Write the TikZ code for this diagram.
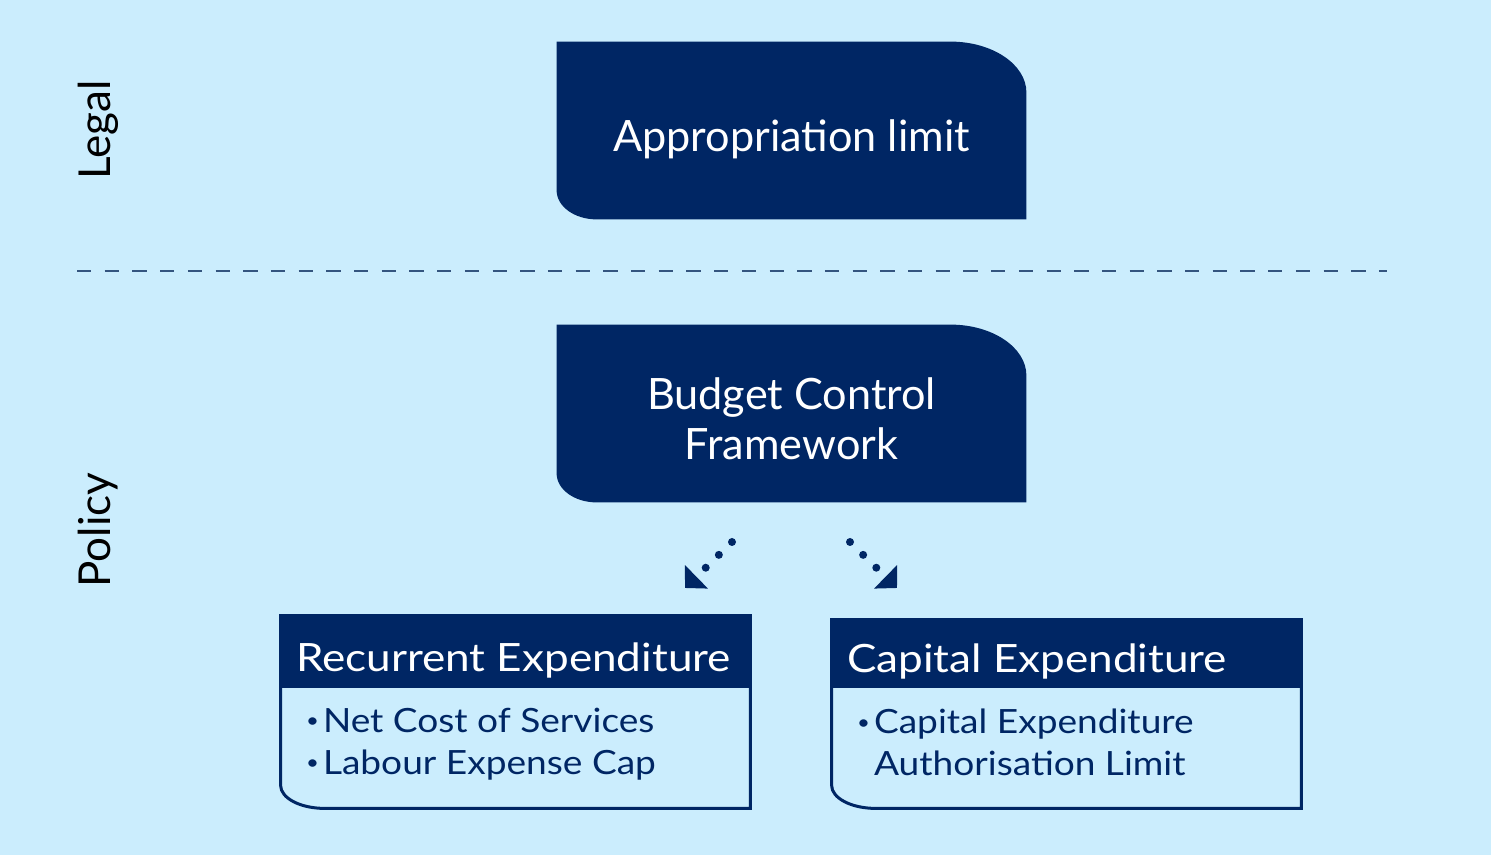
\documentclass[tikz,border=0pt]{standalone}
\usepackage{fontspec}
\setmainfont{Lato}
\usepackage{tikz}
\usetikzlibrary{arrows.meta, positioning, backgrounds}

\definecolor{navy}{HTML}{002664}
\definecolor{skyblue}{HTML}{CBEDFD}
\definecolor{dashblue}{HTML}{34557F}

\newcommand{\itm}{\makebox[8.5pt][l]{\raisebox{2.2pt}{\scalebox{0.6}{\textbullet}}}}

\begin{document}
\begin{tikzpicture}[
    x=0.5pt, y=0.5pt,
    darkbox/.style={rectangle, minimum width=234.5pt, minimum height=88.5pt, inner sep=0pt},
    boxtext/.style={inner sep=0pt, align=center, text=white, font=\fontsize{21.6}{25}\selectfont},
    listbox/.style={rectangle, minimum width=234.5pt, inner sep=0pt},
    headtext/.style={anchor=base west, inner sep=0pt, text=white, font=\fontsize{19.5}{22}\selectfont\addfontfeature{FakeStretch=1.13}},
    bodytext/.style={anchor=north west, inner sep=0pt, align=left, text=navy, font=\fontsize{16.7}{21}\selectfont\addfontfeature{FakeStretch=1.11}},
    sidelabel/.style={rotate=90, inner sep=0pt, font=\fontsize{22}{25}\selectfont},
    divider/.style={dashblue, line width=1pt, dash pattern=on 7.15pt off 6.7pt},
    arrow/.style={navy, line width=4pt, line cap=round, dash pattern=on 0pt off 9.2pt, -{Triangle[length=8pt, width=16pt]}}
]

\useasboundingbox (0,0) rectangle (1491,855);

% side labels
\node[sidelabel] (legal) at (98,725) {Legal};
\node[sidelabel] (policy) at (98,325) {Policy};

% main boxes
\node[darkbox] (approp) at (791.5,724.5) {};
\node[darkbox] (bcf) at (791.5,441.5) {};
\node[boxtext] (approptext) at ([yshift=-4.5pt]approp.center) {Appropriation limit};
\node[boxtext] (bcftext) at ([yshift=-2.75pt]bcf.center) {Budget Control\\Framework};

\node[listbox, minimum height=96pt] (recur) at (515.5,143) {};
\node[listbox, minimum height=94pt] (capex) at (1066.5,141) {};

\node[headtext] (rechead) at ([shift={(7.5pt,-28pt)}]recur.north west) {Recurrent Expenditure};
\node[headtext] (caphead) at ([shift={(7.5pt,-26.5pt)}]capex.north west) {Capital Expenditure};

\node[bodytext] (recbody) at ([shift={(12.5pt,-46pt)}]recur.north west) {\itm Net Cost of Services\\\itm Labour Expense Cap};
\node[bodytext] (capbody) at ([shift={(12.5pt,-44.5pt)}]capex.north west) {\itm Capital Expenditure\\\hspace*{8.5pt}Authorisation Limit};

% divider and arrows
\coordinate (dashL) at (77,584);
\coordinate (dashR) at (1387,584);
\draw[divider] (dashL) -- (dashR);

\coordinate (lfrom) at (732,313);
\coordinate (lto) at (685,267);
\coordinate (rfrom) at (850,313);
\coordinate (rto) at (897,267);
\draw[arrow] (lfrom) -- (lto);
\draw[arrow] (rfrom) -- (rto);

\begin{pgfonlayer}{background}
\fill[skyblue] (0,0) rectangle (1491,855);
\fill[navy] (approp.north west) -- ([xshift=-38pt]approp.north east) arc[start angle=90, end angle=0, x radius=38pt, y radius=25.5pt] -- (approp.south east) -- ([xshift=20pt]approp.south west) arc[start angle=270, end angle=180, x radius=20pt, y radius=14.5pt] -- cycle;
\fill[navy] (bcf.north west) -- ([xshift=-38pt]bcf.north east) arc[start angle=90, end angle=0, x radius=38pt, y radius=25.5pt] -- (bcf.south east) -- ([xshift=20pt]bcf.south west) arc[start angle=270, end angle=180, x radius=20pt, y radius=14.5pt] -- cycle;
\fill[navy] (recur.north west) rectangle ([yshift=-36pt]recur.north east);
\fill[navy] (capex.north west) rectangle ([yshift=-34pt]capex.north east);
\draw[navy, line width=1.5pt] (recur.north west) -- (recur.north east) -- (recur.south east) -- ([xshift=22pt]recur.south west) arc[start angle=270, end angle=180, x radius=22pt, y radius=11.5pt] -- cycle;
\draw[navy, line width=1.5pt] (capex.north west) -- (capex.north east) -- (capex.south east) -- ([xshift=22pt]capex.south west) arc[start angle=270, end angle=180, x radius=22pt, y radius=11.5pt] -- cycle;
\end{pgfonlayer}

\end{tikzpicture}
\end{document}
